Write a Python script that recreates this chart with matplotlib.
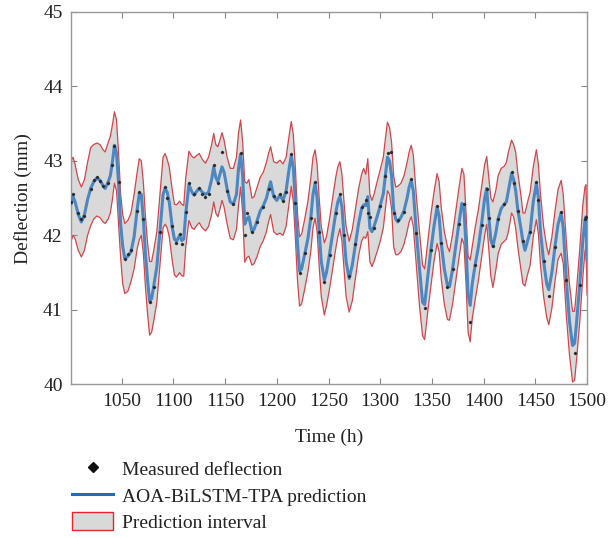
import numpy as np
import matplotlib
matplotlib.use("Agg")
import matplotlib.pyplot as plt
from matplotlib.lines import Line2D
from matplotlib.patches import Patch

plt.rcParams['font.family'] = ['Liberation Serif', 'DejaVu Serif']

# time (h) at which values were read
time_h = [1001, 1003, 1005, 1008, 1011, 1014, 1017, 1020, 1023, 1026, 1029, 1032, 1034, 1037, 1039,
          1041, 1043, 1045, 1047, 1049, 1051, 1053, 1056, 1059, 1062, 1065, 1067, 1069, 1071, 1073,
          1075, 1077, 1079, 1081, 1084, 1087, 1090, 1092, 1094, 1096, 1099, 1101, 1103, 1106, 1108,
          1110, 1112, 1115, 1118, 1120, 1123, 1125, 1128, 1131, 1134, 1137, 1139, 1141, 1143, 1145,
          1147, 1149, 1152, 1155, 1158, 1161, 1163, 1165, 1167, 1169, 1171, 1173, 1176, 1178, 1181,
          1184, 1187, 1190, 1192, 1194, 1197, 1200, 1203, 1206, 1209, 1212, 1214, 1216, 1218, 1220,
          1222, 1224, 1227, 1230, 1233, 1235, 1237, 1239, 1241, 1243, 1246, 1248, 1251, 1254, 1257,
          1259, 1261, 1263, 1265, 1267, 1270, 1273, 1276, 1279, 1282, 1284, 1286, 1288, 1290, 1292,
          1294, 1297, 1300, 1303, 1305, 1307, 1309, 1311, 1313, 1315, 1317, 1320, 1323, 1326, 1328,
          1330, 1332, 1335, 1338, 1341, 1343, 1346, 1349, 1352, 1355, 1357, 1359, 1362, 1365, 1367,
          1370, 1373, 1376, 1379, 1381, 1383, 1385, 1387, 1389, 1392, 1395, 1398, 1401, 1403, 1405,
          1407, 1409, 1412, 1414, 1417, 1420, 1422, 1424, 1427, 1429, 1431, 1433, 1436, 1438, 1440,
          1442, 1445, 1448, 1451, 1453, 1455, 1458, 1461, 1463, 1466, 1469, 1472, 1475, 1477, 1480,
          1483, 1486, 1488, 1490, 1493, 1496, 1498, 1499, 1500]

prediction = [42.42, 42.52, 42.45, 42.28, 42.18, 42.28, 42.48, 42.63, 42.72, 42.77, 42.74, 42.67, 42.63, 42.72, 42.80,
              42.98, 43.21, 43.10, 42.70, 42.15, 41.85, 41.69, 41.72, 41.78, 41.98, 42.35, 42.56, 42.55, 42.20, 41.75,
              41.40, 41.12, 41.15, 41.32, 41.58, 42.05, 42.55, 42.63, 42.58, 42.45, 42.10, 41.95, 41.92, 42.00, 41.93,
              41.95, 42.30, 42.68, 42.58, 42.54, 42.60, 42.63, 42.58, 42.55, 42.58, 42.75, 42.92, 42.78, 42.72, 42.82,
              42.92, 42.85, 42.62, 42.45, 42.42, 42.55, 42.90, 43.09, 42.80, 42.15, 42.22, 42.25, 42.05, 42.08, 42.20,
              42.33, 42.40, 42.50, 42.62, 42.72, 42.52, 42.47, 42.54, 42.47, 42.60, 42.90, 43.07, 42.90, 42.45, 41.90,
              41.52, 41.55, 41.75, 41.95, 42.25, 42.55, 42.70, 42.50, 42.05, 41.65, 41.40, 41.50, 41.75, 42.03, 42.30,
              42.45, 42.52, 42.38, 42.00, 41.65, 41.42, 41.60, 41.88, 42.15, 42.36, 42.41, 42.40, 42.52, 42.10, 42.05,
              42.12, 42.25, 42.40, 42.56, 42.80, 43.05, 43.00, 42.80, 42.35, 42.22, 42.18, 42.24, 42.33, 42.50, 42.65,
              42.74, 42.60, 42.03, 41.55, 41.10, 41.07, 41.45, 41.80, 42.12, 42.38, 42.25, 41.90, 41.55, 41.33, 41.31,
              41.55, 41.85, 42.15, 42.43, 42.35, 41.85, 41.20, 41.06, 41.35, 41.62, 41.85, 42.15, 42.50, 42.63, 42.25,
              41.94, 41.85, 42.05, 42.22, 42.36, 42.42, 42.45, 42.60, 42.83, 42.75, 42.60, 42.35, 42.10, 41.92, 41.80,
              41.90, 42.05, 42.45, 42.70, 42.50, 42.05, 41.65, 41.35, 41.27, 41.50, 41.85, 42.15, 42.30, 42.10, 41.40,
              40.85, 40.52, 40.55, 40.85, 41.35, 41.94, 42.20, 42.25, 41.67]

interval_upper = [43.00, 43.05, 42.95, 42.75, 42.65, 42.75, 42.98, 43.18, 43.22, 43.24, 43.22, 43.15, 43.12, 43.25, 43.33,
                  43.48, 43.66, 43.55, 43.10, 42.55, 42.28, 42.16, 42.20, 42.30, 42.55, 42.85, 43.03, 43.00, 42.70, 42.25,
                  41.90, 41.65, 41.65, 41.80, 42.05, 42.55, 43.05, 43.10, 43.02, 42.92, 42.60, 42.42, 42.41, 42.46, 42.42,
                  42.40, 42.78, 43.13, 43.06, 43.04, 43.08, 43.10, 43.02, 42.97, 43.05, 43.22, 43.37, 43.22, 43.19, 43.28,
                  43.38, 43.28, 43.05, 42.90, 42.90, 43.05, 43.38, 43.55, 43.25, 42.72, 42.70, 42.75, 42.50, 42.52, 42.65,
                  42.78, 42.85, 42.98, 43.10, 43.19, 42.99, 42.97, 43.01, 42.96, 43.05, 43.35, 43.53, 43.35, 42.90, 42.30,
                  41.98, 42.02, 42.22, 42.45, 42.78, 43.05, 43.15, 42.95, 42.50, 42.12, 41.90, 41.98, 42.22, 42.50, 42.78,
                  42.92, 42.99, 42.82, 42.45, 42.12, 41.92, 42.08, 42.35, 42.62, 42.82, 42.90, 42.82, 43.03, 42.55, 42.47,
                  42.55, 42.72, 42.88, 43.05, 43.30, 43.52, 43.45, 43.25, 42.80, 42.65, 42.66, 42.70, 42.80, 42.98, 43.12,
                  43.21, 43.08, 42.52, 42.05, 41.60, 41.55, 41.92, 42.28, 42.58, 42.83, 42.72, 42.38, 42.05, 41.85, 41.78,
                  42.02, 42.32, 42.62, 42.90, 42.82, 42.30, 41.72, 41.67, 41.85, 42.12, 42.35, 42.65, 42.95, 43.06, 42.78,
                  42.50, 42.45, 42.62, 42.80, 42.90, 42.93, 42.98, 43.12, 43.28, 43.22, 43.12, 42.85, 42.55, 42.30, 42.30,
                  42.42, 42.58, 42.92, 43.15, 42.95, 42.55, 42.12, 41.85, 41.74, 41.98, 42.32, 42.62, 42.74, 42.55, 41.92,
                  41.35, 40.98, 40.98, 41.30, 41.82, 42.42, 42.65, 42.68, 42.15]

interval_lower = [41.92, 42.00, 41.95, 41.80, 41.71, 41.80, 42.00, 42.13, 42.22, 42.26, 42.24, 42.18, 42.16, 42.22, 42.30,
                  42.48, 42.70, 42.60, 42.15, 41.70, 41.35, 41.22, 41.25, 41.38, 41.55, 41.82, 41.94, 42.00, 41.75, 41.30,
                  40.95, 40.66, 40.70, 40.85, 41.10, 41.60, 42.10, 42.15, 42.10, 41.98, 41.65, 41.47, 41.44, 41.50, 41.46,
                  41.45, 41.85, 42.20, 42.10, 42.08, 42.14, 42.17, 42.10, 42.06, 42.12, 42.28, 42.45, 42.30, 42.25, 42.35,
                  42.47, 42.38, 42.15, 41.96, 41.94, 42.08, 42.40, 42.65, 42.30, 41.64, 41.70, 41.72, 41.60, 41.62, 41.72,
                  41.85, 41.93, 42.05, 42.18, 42.28, 42.05, 42.01, 42.03, 42.00, 42.12, 42.45, 42.66, 42.45, 41.95, 41.40,
                  41.05, 41.08, 41.28, 41.50, 41.80, 42.10, 42.23, 42.05, 41.58, 41.18, 40.93, 41.05, 41.28, 41.55, 41.82,
                  41.98, 42.09, 41.92, 41.55, 41.18, 40.97, 41.12, 41.42, 41.72, 41.92, 41.98, 41.96, 42.05, 41.65, 41.58,
                  41.65, 41.78, 41.92, 42.10, 42.35, 42.60, 42.55, 42.35, 41.85, 41.74, 41.74, 41.78, 41.88, 42.05, 42.18,
                  42.25, 42.12, 41.58, 41.05, 40.65, 40.60, 40.98, 41.32, 41.65, 41.89, 41.78, 41.42, 41.08, 40.87, 40.86,
                  41.08, 41.38, 41.68, 41.96, 41.88, 41.35, 40.70, 40.57, 40.88, 41.15, 41.40, 41.70, 42.00, 42.15, 41.82,
                  41.45, 41.30, 41.55, 41.75, 41.88, 41.92, 41.95, 42.05, 42.30, 42.25, 42.10, 41.85, 41.55, 41.35, 41.32,
                  41.45, 41.60, 41.98, 42.21, 42.02, 41.60, 41.18, 40.90, 40.80, 41.02, 41.38, 41.68, 41.76, 41.62, 40.92,
                  40.40, 40.03, 40.05, 40.35, 40.85, 41.45, 41.78, 41.85, 41.20]

measured_time = [1001, 1003, 1008, 1011, 1014, 1020, 1023, 1026, 1029, 1032, 1037, 1041, 1043, 1047, 1053,
                 1056, 1059, 1065, 1067, 1071, 1077, 1081, 1087, 1092, 1094, 1099, 1103, 1106, 1108, 1112,
                 1115, 1120, 1125, 1128, 1131, 1134, 1139, 1143, 1147, 1152, 1158, 1165, 1169, 1171, 1176,
                 1181, 1187, 1192, 1197, 1203, 1206, 1209, 1214, 1218, 1222, 1227, 1233, 1237, 1241, 1246,
                 1251, 1257, 1261, 1265, 1270, 1276, 1282, 1286, 1288, 1290, 1294, 1300, 1305, 1308, 1310,
                 1313, 1317, 1323, 1330, 1335, 1343, 1349, 1355, 1359, 1365, 1370, 1376, 1381, 1387, 1392,
                 1398, 1403, 1405, 1409, 1414, 1420, 1427, 1429, 1433, 1438, 1445, 1451, 1453, 1458, 1463,
                 1469, 1475, 1480, 1488, 1493, 1498, 1499]

measured_value = [42.45, 42.55, 42.30, 42.22, 42.26, 42.62, 42.74, 42.78, 42.73, 42.66, 42.70, 42.95, 43.20, 42.72, 41.68,
                  41.75, 41.80, 42.33, 42.58, 42.22, 41.10, 41.30, 42.04, 42.65, 42.50, 42.12, 41.90, 42.02, 41.88, 42.32,
                  42.70, 42.55, 42.64, 42.56, 42.52, 42.56, 42.95, 42.70, 43.12, 42.60, 42.42, 43.10, 42.00, 42.30, 42.05,
                  42.18, 42.38, 42.62, 42.53, 42.56, 42.46, 42.58, 43.09, 42.44, 41.50, 41.76, 42.24, 42.72, 42.04, 41.38,
                  41.74, 42.30, 42.55, 42.00, 41.45, 41.88, 42.38, 42.47, 42.30, 42.25, 42.10, 42.40, 42.80, 43.10, 43.12,
                  42.30, 42.20, 42.32, 42.76, 42.03, 41.03, 41.80, 42.40, 41.90, 41.30, 41.55, 42.15, 42.42, 40.84, 41.60,
                  42.14, 42.62, 42.24, 41.86, 42.22, 42.42, 42.85, 42.70, 42.33, 41.92, 42.05, 42.72, 42.48, 41.65, 41.19,
                  41.85, 42.32, 41.40, 40.42, 41.33, 42.22, 42.25]

fig = plt.figure(figsize=(6.08, 5.38), dpi=100)
ax = fig.add_axes([0.1168, 0.2857, 0.8487, 0.692])

ax.fill_between(time_h, interval_lower, interval_upper, facecolor='#d9d9d9', edgecolor='none', zorder=1)
ax.plot(time_h, interval_upper, color='#d2464b', lw=0.9, zorder=2)
ax.plot(time_h, interval_lower, color='#d2464b', lw=0.9, zorder=2)
ax.plot(time_h, prediction, color='#4d87c2', lw=2.2, zorder=3)
ax.plot(measured_time, measured_value, linestyle='none', marker='D', ms=1.2,
        color='#2a2a2a', zorder=4)

ax.set_xlim(1001, 1500)
ax.set_ylim(40, 45)
ax.set_xticks(np.arange(1050, 1501, 50))
ax.set_yticks([40, 41, 42, 43, 44, 45])
ax.tick_params(direction='in', top=True, right=True, length=4, width=0.8,
               color='#888888', labelsize=14, labelcolor='#222222', pad=6)
for s in ax.spines.values():
    s.set_color('#999999')
    s.set_linewidth(1.0)

ax.set_xlabel('Time (h)', fontsize=14, color='#222222', labelpad=14)
ax.set_ylabel('Deflection (mm)', fontsize=14, color='#222222', labelpad=8)

handles = [
    Line2D([], [], linestyle='none', marker='D', ms=5, color='#111111'),
    Line2D([], [], color='#1a6fbd', lw=2.2),
    Patch(facecolor='#d9d9d9', edgecolor='#e2272b', linewidth=1.0),
]
labels = ['Measured deflection', 'AOA-BiLSTM-TPA prediction', 'Prediction interval']
fig.legend(handles, labels, loc='lower left', bbox_to_anchor=(0.100, -0.010), frameon=False,
           fontsize=14, handlelength=2.1, handleheight=1.1, handletextpad=0.45,
           labelspacing=0.32, borderaxespad=0.2, labelcolor='#222222')

fig.savefig('out.png', dpi=100)
